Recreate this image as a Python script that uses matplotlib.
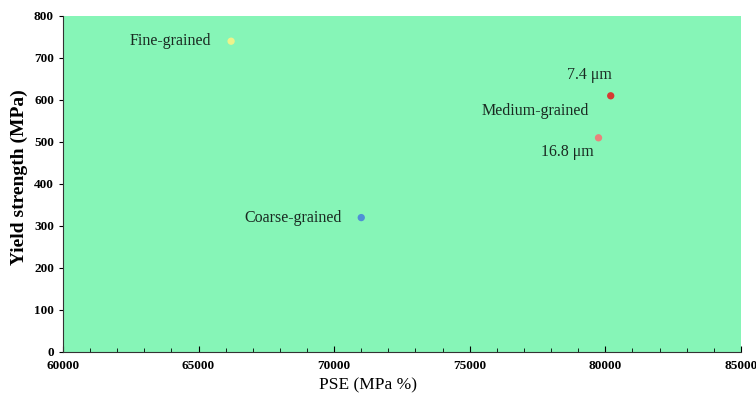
import matplotlib.pyplot as plt
from matplotlib.ticker import MultipleLocator

plt.rcParams['font.family'] = ['Liberation Serif', 'DejaVu Serif']

# data
labels = ["Fine-grained", "Coarse-grained", "7.4 \u03bcm", "16.8 \u03bcm"]
pse = [66200, 71000, 80200, 79750]
yield_strength = [740, 320, 610, 510]
colors = ["#eef28a", "#4f8fd6", "#d63a32", "#e8837c"]
# label offsets in pixels (dx, dy) and alignment
offsets = [(-20, 0, "right"), (-20, 0, "right"), (-21, 21, "center"), (-31, -14, "center")]
group_label = "Medium-grained"

fig = plt.figure(figsize=(7.56, 3.98), dpi=100)
ax = fig.add_axes([0.0833, 0.1156, 0.8967, 0.8442])
ax.set_facecolor("#86f5b7")

ax.scatter(pse, yield_strength, c=colors, s=18, zorder=3)

for lab, x, y, (dx, dy, ha) in zip(labels, pse, yield_strength, offsets):
    ax.annotate(lab, (x, y), xytext=(dx, dy), textcoords="offset pixels",
                ha=ha, va="center", fontsize=11.5, color="#1a2a22")

# group label sits between the two medium-grained points
ax.annotate(group_label, (pse[3], yield_strength[3]), xytext=(-63, 27),
            textcoords="offset pixels", ha="center", va="center",
            fontsize=11.5, color="#1a2a22")

ax.set_xlim(60000, 85000)
ax.set_ylim(0, 800)
ax.xaxis.set_major_locator(MultipleLocator(5000))
ax.xaxis.set_minor_locator(MultipleLocator(1000))
ax.yaxis.set_major_locator(MultipleLocator(100))
ax.tick_params(axis="x", direction="in", length=4, labelsize=9.5, pad=6)
ax.tick_params(axis="x", which="minor", direction="in", length=3)
ax.tick_params(axis="y", direction="out", length=3, labelsize=9.5)
for t in ax.get_xticklabels() + ax.get_yticklabels():
    t.set_fontweight("bold")

for s in ["top", "right"]:
    ax.spines[s].set_visible(False)
for s in ["left", "bottom"]:
    ax.spines[s].set_color("#333333")

ax.set_xlabel("PSE (MPa %)", fontsize=12.5)
ax.xaxis.set_label_coords(0.45, -0.075)
ax.set_ylabel("Yield strength (MPa)", fontsize=14, fontweight="bold")
ax.yaxis.set_label_coords(-0.052, 0.52)

fig.savefig("out.png", dpi=100)
